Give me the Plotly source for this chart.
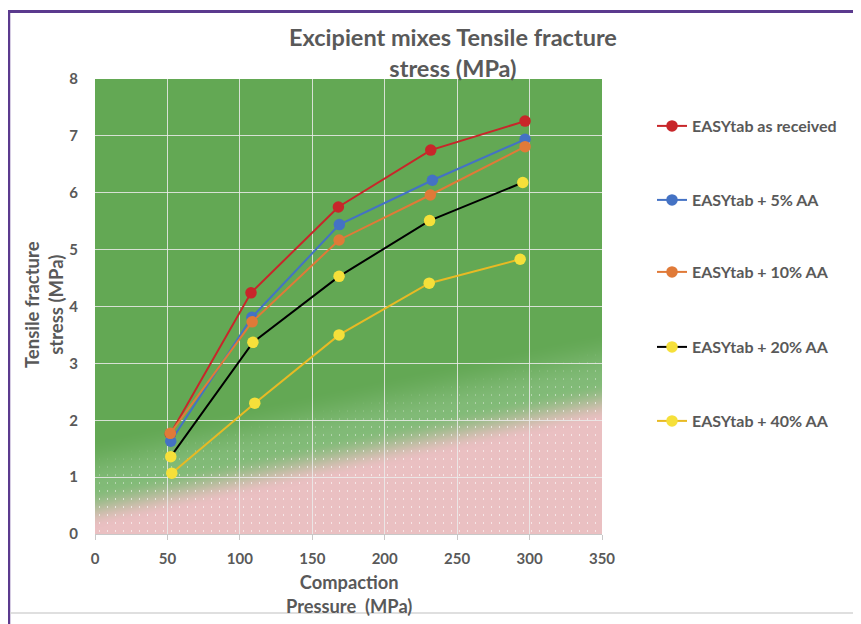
import base64
import struct
import zlib

import numpy as np
import plotly.graph_objects as go

# ---------------- data ----------------
series_names = [
    "EASYtab as received",
    "EASYtab + 5% AA",
    "EASYtab + 10% AA",
    "EASYtab + 20% AA",
    "EASYtab + 40% AA",
]
pressure_received = [52.0, 107.7, 168.0, 231.8, 296.9]
stress_received = [1.76, 4.24, 5.75, 6.75, 7.26]

pressure_5 = [52.3, 108.3, 168.7, 232.9, 296.9]
stress_5 = [1.63, 3.81, 5.44, 6.22, 6.94]

pressure_10 = [52.0, 108.5, 168.5, 231.5, 296.9]
stress_10 = [1.77, 3.73, 5.17, 5.96, 6.81]

pressure_20 = [52.3, 109.0, 168.5, 231.0, 295.3]
stress_20 = [1.36, 3.37, 4.53, 5.51, 6.18]

pressure_40 = [53.0, 110.3, 168.5, 230.7, 293.5]
stress_40 = [1.07, 2.30, 3.50, 4.41, 4.83]

x_ticks = [0, 50, 100, 150, 200, 250, 300, 350]
y_ticks = [0, 1, 2, 3, 4, 5, 6, 7, 8]

# ---------------- styles ----------------
line_colors = ["#C8262A", "#4472C4", "#E07A38", "#000000", "#E8BA24"]
marker_colors = ["#C8262A", "#4472C4", "#E07A38", "#F6E03A", "#F6E03A"]
TEXT = "#595959"
FONT = "Lato"

# page has an 8px body margin; work in page pixels and convert
OFF = 8
FIG_W, FIG_H = 861 - OFF, 624 - OFF
PL, PR, PT, PB = 95, 602, 79, 534          # plot area in page pixels
L, R, T, B = PL - OFF, PR - OFF, PT - OFF, PB - OFF
PW, PH = R - L, B - T


def px(page_x):
    return (page_x - PL) / PW


def py(page_y):
    return (PB - page_y) / PH


# ---------------- decorative background image (green -> pink) ----------------
def png_data_uri(rgb):
    h, w, _ = rgb.shape
    raw = b"".join(b"\x00" + rgb[r].tobytes() for r in range(h))

    def chunk(tag, data):
        c = struct.pack(">I", len(data)) + tag + data
        return c + struct.pack(">I", zlib.crc32(tag + data) & 0xFFFFFFFF)

    png = (
        b"\x89PNG\r\n\x1a\n"
        + chunk(b"IHDR", struct.pack(">IIBBBBB", w, h, 8, 2, 0, 0, 0))
        + chunk(b"IDAT", zlib.compress(raw, 9))
        + chunk(b"IEND", b"")
    )
    return "data:image/png;base64," + base64.b64encode(png).decode()


xs = (np.arange(PW) + 0.5) / PW * 350
ys = 8 - (np.arange(PH) + 0.5) / PH * 8
X, Y = np.meshgrid(xs, ys)
d = Y - (0.35 + 0.0054 * X)
pink = np.array([234, 192, 194], float)
light = np.array([130, 187, 120], float)
green = np.array([99, 168, 84], float)


def smooth(t):
    t = np.clip(t, 0, 1)
    return t * t * (3 - 2 * t)


t1 = smooth((d + 0.25) / 0.7)[..., None]
t2 = smooth((d - 0.45) / 0.9)[..., None]
col = pink * (1 - t1) + light * t1
col = col * (1 - t2) + green * t2
I, J = np.meshgrid(np.arange(PW), np.arange(PH))
dots = (I % 8 == 4) & ((J % 8 == 3) | (J % 8 == 4)) & (d < 1.0)
strength = np.clip((1.0 - d) / 0.8, 0, 1)[..., None] * 0.6
col = np.where(dots[..., None], col * (1 - strength) + 255 * strength, col)
bg_uri = png_data_uri(np.clip(col, 0, 255).astype(np.uint8))

# ---------------- figure ----------------
fig = go.Figure()
all_x = [pressure_received, pressure_5, pressure_10, pressure_20, pressure_40]
all_y = [stress_received, stress_5, stress_10, stress_20, stress_40]
legend_ids = ["legend", "legend2", "legend3", "legend4", "legend5"]
legend_py = [126, 200, 272, 347, 421]

for i in range(5):
    fig.add_trace(
        go.Scatter(
            x=all_x[i],
            y=all_y[i],
            name=series_names[i],
            mode="lines+markers",
            line=dict(color=line_colors[i], width=2),
            marker=dict(color=marker_colors[i], size=11.5, line=dict(width=0)),
            legend=legend_ids[i],
        )
    )

layout_legends = {}
for i, lid in enumerate(legend_ids):
    layout_legends[lid] = dict(
        x=px(652),
        xanchor="left",
        y=py(legend_py[i]),
        yanchor="middle",
        bgcolor="rgba(0,0,0,0)",
        font=dict(family=FONT, size=16, color=TEXT, weight="bold"),
        itemwidth=30,
    )

annotations = [
    dict(
        text="Excipient mixes Tensile fracture<br>stress (MPa)",
        x=px(453),
        y=py(52),
        xref="paper",
        yref="paper",
        xanchor="center",
        yanchor="middle",
        showarrow=False,
        font=dict(family=FONT, size=23.5, color=TEXT, weight="bold"),
    ),
    dict(
        text="Compaction<br>Pressure  (MPa)",
        x=px(349),
        y=py(594),
        xref="paper",
        yref="paper",
        xanchor="center",
        yanchor="middle",
        showarrow=False,
        font=dict(family=FONT, size=18.3, color=TEXT, weight="bold"),
    ),
    dict(
        text="Tensile fracture<br>stress (MPa)",
        x=px(44),
        y=py(305),
        xref="paper",
        yref="paper",
        xanchor="center",
        yanchor="middle",
        textangle=-90,
        showarrow=False,
        font=dict(family=FONT, size=18.5, color=TEXT, weight="bold"),
    ),
]

shapes = [
    # purple frame: top and left
    dict(type="line", xref="paper", yref="paper",
         x0=px(8), x1=px(880),
         y0=py(11.5), y1=py(11.5),
         line=dict(color="#5B3A8E", width=3)),
    dict(type="line", xref="paper", yref="paper",
         x0=px(9), x1=px(9),
         y0=py(10), y1=py(640),
         line=dict(color="#5B3A8E", width=2.5)),
    # light gray bottom line
    dict(type="line", xref="paper", yref="paper",
         x0=px(10), x1=px(880),
         y0=py(613), y1=py(613),
         line=dict(color="#D4D4D4", width=1.5)),
]

fig.update_layout(
    width=FIG_W,
    height=FIG_H,
    margin=dict(l=L, r=FIG_W - R, t=T, b=FIG_H - B),
    paper_bgcolor="white",
    plot_bgcolor="#63A854",
    showlegend=True,
    annotations=annotations,
    shapes=shapes,
    images=[
        dict(
            source=bg_uri,
            xref="x",
            yref="y",
            x=0,
            y=8,
            sizex=350,
            sizey=8,
            sizing="stretch",
            layer="below",
        )
    ],
    xaxis=dict(
        range=[0, 350],
        tickvals=x_ticks,
        ticktext=[str(v) for v in x_ticks],
        showgrid=True,
        gridcolor="rgba(235,235,235,0.85)",
        gridwidth=1,
        zeroline=False,
        showline=True,
        linecolor="#C8C8C8",
        linewidth=1,
        ticks="outside",
        ticklen=5,
        tickcolor="#C8C8C8",
        ticklabelstandoff=6,
        tickfont=dict(family=FONT, size=15, color=TEXT, weight="bold"),
        fixedrange=True,
    ),
    yaxis=dict(
        range=[0, 8],
        tickvals=y_ticks,
        ticktext=[str(v) for v in y_ticks],
        showgrid=True,
        gridcolor="rgba(235,235,235,0.85)",
        gridwidth=1,
        zeroline=False,
        showline=False,
        ticks="",
        ticklabelstandoff=16,
        tickfont=dict(family=FONT, size=15, color=TEXT, weight="bold"),
        fixedrange=True,
    ),
    **layout_legends,
)

fig.write_html("out.html")
